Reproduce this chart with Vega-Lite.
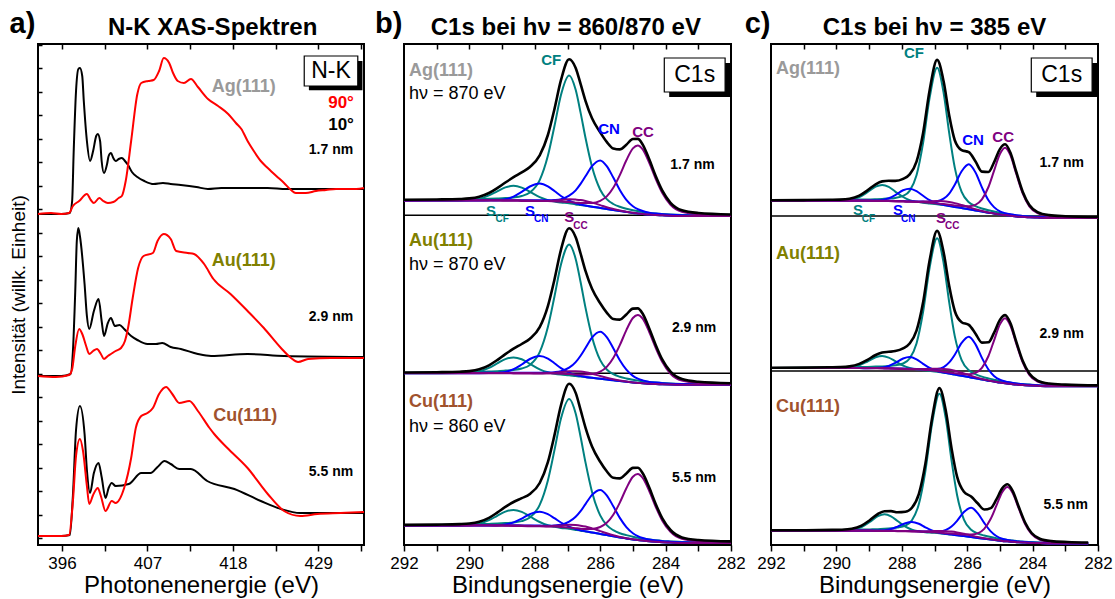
{
"$schema": "https://vega.github.io/schema/vega-lite/v6.json",
"background": "white",
"padding": {"left": 8, "top": 8, "right": 5, "bottom": 2},
"config": {
 "font": "Liberation Sans",
 "view": {"stroke": "black", "strokeWidth": 2},
 "axis": {"domain": false, "grid": false, "tickColor": "black", "tickWidth": 1.5, "labelColor": "black", "titleColor": "black", "labelFont": "Liberation Sans", "titleFont": "Liberation Sans", "labelFontSize": 17, "titleFontSize": 24, "titleFontWeight": "normal", "labelFlush": false, "labelOverlap": false},
 "text": {"font": "Liberation Sans"}
},
"spacing": 40,
"bounds": "flush",
"datasets": {
 "xas": [
{"s":"Ag","p":"90","e":392.9,"i":331},{"s":"Ag","p":"90","e":394.6,"i":332},{"s":"Ag","p":"90","e":395.9,"i":331},{"s":"Ag","p":"90","e":396.9,"i":332},{"s":"Ag","p":"90","e":397.4,"i":339},{"s":"Ag","p":"90","e":398.2,"i":344},{"s":"Ag","p":"90","e":399.2,"i":351},{"s":"Ag","p":"90","e":399.7,"i":345},{"s":"Ag","p":"90","e":400.1,"i":342},{"s":"Ag","p":"90","e":400.8,"i":347},{"s":"Ag","p":"90","e":401.3,"i":344},{"s":"Ag","p":"90","e":401.9,"i":342},{"s":"Ag","p":"90","e":402.6,"i":343},{"s":"Ag","p":"90","e":403.3,"i":347},{"s":"Ag","p":"90","e":403.7,"i":349},{"s":"Ag","p":"90","e":404.2,"i":364},{"s":"Ag","p":"90","e":404.9,"i":404},{"s":"Ag","p":"90","e":405.7,"i":451},{"s":"Ag","p":"90","e":406.2,"i":462},{"s":"Ag","p":"90","e":407.1,"i":464},{"s":"Ag","p":"90","e":407.8,"i":465},{"s":"Ag","p":"90","e":408.5,"i":474},{"s":"Ag","p":"90","e":409.1,"i":487},{"s":"Ag","p":"90","e":409.8,"i":482},{"s":"Ag","p":"90","e":410.3,"i":472},{"s":"Ag","p":"90","e":410.9,"i":464},{"s":"Ag","p":"90","e":411.7,"i":462},{"s":"Ag","p":"90","e":412.6,"i":466},{"s":"Ag","p":"90","e":413.5,"i":458},{"s":"Ag","p":"90","e":414.8,"i":446},{"s":"Ag","p":"90","e":416.1,"i":439},{"s":"Ag","p":"90","e":417.4,"i":431},{"s":"Ag","p":"90","e":418.4,"i":422},{"s":"Ag","p":"90","e":419.1,"i":416},{"s":"Ag","p":"90","e":419.9,"i":404},{"s":"Ag","p":"90","e":420.7,"i":394},{"s":"Ag","p":"90","e":421.6,"i":384},{"s":"Ag","p":"90","e":422.5,"i":377},{"s":"Ag","p":"90","e":423.6,"i":369},{"s":"Ag","p":"90","e":424.6,"i":362},{"s":"Ag","p":"90","e":425.5,"i":355},{"s":"Ag","p":"90","e":426.1,"i":352},{"s":"Ag","p":"90","e":427.4,"i":352},{"s":"Ag","p":"90","e":428.7,"i":354},{"s":"Ag","p":"90","e":430.0,"i":355},{"s":"Ag","p":"90","e":431.3,"i":356},{"s":"Ag","p":"90","e":432.6,"i":356},{"s":"Ag","p":"90","e":433.9,"i":356},{"s":"Ag","p":"90","e":434.9,"i":357},
{"s":"Ag","p":"10","e":392.9,"i":331},{"s":"Ag","p":"10","e":395.9,"i":331},{"s":"Ag","p":"10","e":397.0,"i":332},{"s":"Ag","p":"10","e":397.3,"i":344},{"s":"Ag","p":"10","e":397.5,"i":394},{"s":"Ag","p":"10","e":397.8,"i":454},{"s":"Ag","p":"10","e":398.1,"i":476},{"s":"Ag","p":"10","e":398.3,"i":477},{"s":"Ag","p":"10","e":398.6,"i":469},{"s":"Ag","p":"10","e":398.8,"i":444},{"s":"Ag","p":"10","e":399.2,"i":404},{"s":"Ag","p":"10","e":399.6,"i":384},{"s":"Ag","p":"10","e":400.0,"i":394},{"s":"Ag","p":"10","e":400.4,"i":409},{"s":"Ag","p":"10","e":400.6,"i":411},{"s":"Ag","p":"10","e":400.9,"i":404},{"s":"Ag","p":"10","e":401.1,"i":384},{"s":"Ag","p":"10","e":401.4,"i":372},{"s":"Ag","p":"10","e":401.8,"i":381},{"s":"Ag","p":"10","e":402.0,"i":389},{"s":"Ag","p":"10","e":402.3,"i":392},{"s":"Ag","p":"10","e":402.6,"i":387},{"s":"Ag","p":"10","e":402.9,"i":384},{"s":"Ag","p":"10","e":403.3,"i":386},{"s":"Ag","p":"10","e":403.7,"i":387},{"s":"Ag","p":"10","e":404.1,"i":384},{"s":"Ag","p":"10","e":404.5,"i":380},{"s":"Ag","p":"10","e":405.0,"i":373},{"s":"Ag","p":"10","e":405.7,"i":368},{"s":"Ag","p":"10","e":406.6,"i":364},{"s":"Ag","p":"10","e":407.8,"i":361},{"s":"Ag","p":"10","e":409.0,"i":362},{"s":"Ag","p":"10","e":410.0,"i":361},{"s":"Ag","p":"10","e":411.3,"i":360},{"s":"Ag","p":"10","e":413.3,"i":358},{"s":"Ag","p":"10","e":414.8,"i":356},{"s":"Ag","p":"10","e":416.5,"i":357},{"s":"Ag","p":"10","e":418.2,"i":357},{"s":"Ag","p":"10","e":420.3,"i":357},{"s":"Ag","p":"10","e":422.5,"i":357},{"s":"Ag","p":"10","e":424.9,"i":356},{"s":"Ag","p":"10","e":426.8,"i":356},{"s":"Ag","p":"10","e":429.4,"i":356},{"s":"Ag","p":"10","e":431.9,"i":356},{"s":"Ag","p":"10","e":434.9,"i":356},
{"s":"Au","p":"90","e":392.9,"i":169},{"s":"Au","p":"90","e":395.2,"i":168},{"s":"Au","p":"90","e":396.9,"i":170},{"s":"Au","p":"90","e":397.3,"i":176},{"s":"Au","p":"90","e":397.7,"i":199},{"s":"Au","p":"90","e":398.2,"i":216},{"s":"Au","p":"90","e":398.6,"i":211},{"s":"Au","p":"90","e":399.1,"i":199},{"s":"Au","p":"90","e":399.5,"i":191},{"s":"Au","p":"90","e":400.0,"i":194},{"s":"Au","p":"90","e":400.5,"i":196},{"s":"Au","p":"90","e":401.0,"i":191},{"s":"Au","p":"90","e":401.4,"i":186},{"s":"Au","p":"90","e":401.9,"i":189},{"s":"Au","p":"90","e":402.3,"i":191},{"s":"Au","p":"90","e":402.9,"i":194},{"s":"Au","p":"90","e":403.6,"i":197},{"s":"Au","p":"90","e":404.1,"i":204},{"s":"Au","p":"90","e":404.5,"i":217},{"s":"Au","p":"90","e":405.1,"i":247},{"s":"Au","p":"90","e":405.8,"i":277},{"s":"Au","p":"90","e":406.5,"i":289},{"s":"Au","p":"90","e":407.7,"i":292},{"s":"Au","p":"90","e":408.3,"i":304},{"s":"Au","p":"90","e":409.1,"i":311},{"s":"Au","p":"90","e":410.0,"i":306},{"s":"Au","p":"90","e":410.7,"i":294},{"s":"Au","p":"90","e":412.2,"i":292},{"s":"Au","p":"90","e":413.0,"i":291},{"s":"Au","p":"90","e":414.3,"i":281},{"s":"Au","p":"90","e":415.5,"i":266},{"s":"Au","p":"90","e":417.7,"i":251},{"s":"Au","p":"90","e":419.9,"i":234},{"s":"Au","p":"90","e":422.0,"i":217},{"s":"Au","p":"90","e":424.2,"i":197},{"s":"Au","p":"90","e":425.5,"i":187},{"s":"Au","p":"90","e":426.4,"i":183},{"s":"Au","p":"90","e":427.7,"i":186},{"s":"Au","p":"90","e":430.6,"i":187},{"s":"Au","p":"90","e":434.9,"i":187},
{"s":"Au","p":"10","e":392.9,"i":169},{"s":"Au","p":"10","e":395.9,"i":169},{"s":"Au","p":"10","e":397.1,"i":171},{"s":"Au","p":"10","e":397.4,"i":194},{"s":"Au","p":"10","e":397.7,"i":254},{"s":"Au","p":"10","e":397.9,"i":304},{"s":"Au","p":"10","e":398.1,"i":317},{"s":"Au","p":"10","e":398.3,"i":309},{"s":"Au","p":"10","e":398.9,"i":261},{"s":"Au","p":"10","e":399.2,"i":229},{"s":"Au","p":"10","e":399.5,"i":216},{"s":"Au","p":"10","e":400.1,"i":234},{"s":"Au","p":"10","e":400.7,"i":246},{"s":"Au","p":"10","e":401.1,"i":224},{"s":"Au","p":"10","e":401.4,"i":209},{"s":"Au","p":"10","e":401.9,"i":222},{"s":"Au","p":"10","e":402.3,"i":227},{"s":"Au","p":"10","e":402.8,"i":219},{"s":"Au","p":"10","e":403.4,"i":220},{"s":"Au","p":"10","e":404.0,"i":216},{"s":"Au","p":"10","e":404.9,"i":209},{"s":"Au","p":"10","e":405.7,"i":205},{"s":"Au","p":"10","e":407.0,"i":201},{"s":"Au","p":"10","e":408.1,"i":201},{"s":"Au","p":"10","e":408.9,"i":202},{"s":"Au","p":"10","e":410.0,"i":198},{"s":"Au","p":"10","e":411.3,"i":196},{"s":"Au","p":"10","e":413.5,"i":191},{"s":"Au","p":"10","e":415.2,"i":189},{"s":"Au","p":"10","e":419.9,"i":191},{"s":"Au","p":"10","e":424.6,"i":189},{"s":"Au","p":"10","e":434.9,"i":188},
{"s":"Cu","p":"90","e":392.9,"i":9},{"s":"Cu","p":"90","e":395.9,"i":9},{"s":"Cu","p":"90","e":396.9,"i":10},{"s":"Cu","p":"90","e":397.4,"i":44},{"s":"Cu","p":"90","e":397.8,"i":89},{"s":"Cu","p":"90","e":398.3,"i":106},{"s":"Cu","p":"90","e":398.7,"i":94},{"s":"Cu","p":"90","e":399.2,"i":59},{"s":"Cu","p":"90","e":399.5,"i":41},{"s":"Cu","p":"90","e":400.0,"i":50},{"s":"Cu","p":"90","e":400.6,"i":57},{"s":"Cu","p":"90","e":401.0,"i":49},{"s":"Cu","p":"90","e":401.6,"i":34},{"s":"Cu","p":"90","e":402.4,"i":44},{"s":"Cu","p":"90","e":402.9,"i":42},{"s":"Cu","p":"90","e":404.0,"i":57},{"s":"Cu","p":"90","e":404.9,"i":87},{"s":"Cu","p":"90","e":405.5,"i":117},{"s":"Cu","p":"90","e":406.2,"i":129},{"s":"Cu","p":"90","e":407.0,"i":132},{"s":"Cu","p":"90","e":407.7,"i":137},{"s":"Cu","p":"90","e":408.5,"i":151},{"s":"Cu","p":"90","e":409.4,"i":158},{"s":"Cu","p":"90","e":410.2,"i":151},{"s":"Cu","p":"90","e":411.1,"i":142},{"s":"Cu","p":"90","e":412.4,"i":144},{"s":"Cu","p":"90","e":413.5,"i":134},{"s":"Cu","p":"90","e":415.0,"i":117},{"s":"Cu","p":"90","e":415.6,"i":111},{"s":"Cu","p":"90","e":417.3,"i":97},{"s":"Cu","p":"90","e":419.9,"i":77},{"s":"Cu","p":"90","e":422.5,"i":51},{"s":"Cu","p":"90","e":424.6,"i":34},{"s":"Cu","p":"90","e":426.7,"i":29},{"s":"Cu","p":"90","e":428.9,"i":31},{"s":"Cu","p":"90","e":431.9,"i":32},{"s":"Cu","p":"90","e":434.9,"i":33},
{"s":"Cu","p":"10","e":392.9,"i":9},{"s":"Cu","p":"10","e":395.9,"i":9},{"s":"Cu","p":"10","e":397.0,"i":10},{"s":"Cu","p":"10","e":397.4,"i":50},{"s":"Cu","p":"10","e":397.8,"i":115},{"s":"Cu","p":"10","e":398.3,"i":139},{"s":"Cu","p":"10","e":398.9,"i":111},{"s":"Cu","p":"10","e":399.2,"i":75},{"s":"Cu","p":"10","e":399.6,"i":52},{"s":"Cu","p":"10","e":400.1,"i":72},{"s":"Cu","p":"10","e":400.7,"i":82},{"s":"Cu","p":"10","e":401.1,"i":68},{"s":"Cu","p":"10","e":401.6,"i":47},{"s":"Cu","p":"10","e":402.0,"i":57},{"s":"Cu","p":"10","e":402.4,"i":62},{"s":"Cu","p":"10","e":402.9,"i":59},{"s":"Cu","p":"10","e":404.6,"i":61},{"s":"Cu","p":"10","e":406.2,"i":72},{"s":"Cu","p":"10","e":407.4,"i":72},{"s":"Cu","p":"10","e":408.3,"i":78},{"s":"Cu","p":"10","e":409.2,"i":84},{"s":"Cu","p":"10","e":410.0,"i":81},{"s":"Cu","p":"10","e":411.1,"i":76},{"s":"Cu","p":"10","e":412.6,"i":76},{"s":"Cu","p":"10","e":414.7,"i":64},{"s":"Cu","p":"10","e":418.2,"i":56},{"s":"Cu","p":"10","e":421.6,"i":44},{"s":"Cu","p":"10","e":424.2,"i":36},{"s":"Cu","p":"10","e":426.7,"i":32},{"s":"Cu","p":"10","e":434.9,"i":32}
 ],
 "xb": [
{"s":"Ag","x":292,"CF":344.9,"CN":344.6,"CC":344.6,"SF":344.5,"SN":344.5,"SC":344.5,"E":345.2},
{"s":"Ag","x":291,"CF":345.1,"CN":344.7,"CC":344.7,"SF":344.5,"SN":344.5,"SC":344.5,"E":345.5},
{"s":"Ag","x":290.3,"CF":345.4,"CN":344.7,"CC":344.7,"SF":344.6,"SN":344.5,"SC":344.5,"E":346.0},
{"s":"Ag","x":290,"CF":345.6,"CN":344.8,"CC":344.8,"SF":345.0,"SN":344.5,"SC":344.5,"E":346.6},
{"s":"Ag","x":289.7,"CF":345.9,"CN":344.8,"CC":344.8,"SF":346.3,"SN":344.5,"SC":344.5,"E":348.3},
{"s":"Ag","x":289.4,"CF":346.2,"CN":344.9,"CC":344.8,"SF":349.6,"SN":344.6,"SC":344.5,"E":352.0},
{"s":"Ag","x":289.15,"CF":346.5,"CN":344.8,"CC":344.8,"SF":353.7,"SN":344.8,"SC":344.4,"E":356.9},
{"s":"Ag","x":288.9,"CF":346.9,"CN":344.8,"CC":344.7,"SF":357.6,"SN":345.7,"SC":344.3,"E":362.5},
{"s":"Ag","x":288.65,"CF":347.6,"CN":344.8,"CC":344.7,"SF":359.2,"SN":348.4,"SC":344.2,"E":367.8},
{"s":"Ag","x":288.4,"CF":349.0,"CN":344.8,"CC":344.6,"SF":357.4,"SN":353.1,"SC":344.1,"E":372.6},
{"s":"Ag","x":288.15,"CF":352.5,"CN":344.8,"CC":344.5,"SF":353.2,"SN":358.5,"SC":344.0,"E":378.0},
{"s":"Ag","x":287.85,"CF":364.9,"CN":344.7,"CC":344.2,"SF":347.9,"SN":361.5,"SC":343.9,"E":389.6},
{"s":"Ag","x":287.6,"CF":389.2,"CN":344.7,"CC":344.0,"SF":344.9,"SN":358.7,"SC":344.1,"E":410.0},
{"s":"Ag","x":287.4,"CF":418.7,"CN":345.0,"CC":343.7,"SF":343.4,"SN":354.0,"SC":344.4,"E":435.8},
{"s":"Ag","x":287.2,"CF":450.1,"CN":345.9,"CC":343.4,"SF":342.5,"SN":349.0,"SC":345.0,"E":464.8},
{"s":"Ag","x":286.95,"CF":469.6,"CN":349.4,"CC":343.0,"SF":341.7,"SN":344.4,"SC":345.7,"E":485.8},
{"s":"Ag","x":286.75,"CF":455.2,"CN":354.7,"CC":342.3,"SF":340.6,"SN":341.7,"SC":345.4,"E":477.1},
{"s":"Ag","x":286.6,"CF":432.4,"CN":361.1,"CC":342.1,"SF":340.0,"SN":340.5,"SC":345.0,"E":461.1},
{"s":"Ag","x":286.45,"CF":407.2,"CN":368.7,"CC":341.9,"SF":339.3,"SN":339.5,"SC":344.1,"E":444.2},
{"s":"Ag","x":286.25,"CF":378.2,"CN":378.9,"CC":342.0,"SF":338.3,"SN":338.3,"SC":342.4,"E":426.7},
{"s":"Ag","x":286,"CF":355.3,"CN":384.6,"CC":344.2,"SF":337.1,"SN":337.1,"SC":339.9,"E":412.6},
{"s":"Ag","x":285.8,"CF":345.8,"CN":378.9,"CC":348.6,"SF":336.0,"SN":336.0,"SC":337.7,"E":403.1},
{"s":"Ag","x":285.6,"CF":341.0,"CN":367.4,"CC":357.2,"SF":335.0,"SN":335.0,"SC":336.0,"E":396.5},
{"s":"Ag","x":285.4,"CF":338.2,"CN":355.1,"CC":369.9,"SF":334.0,"SN":334.0,"SC":334.5,"E":395.6},
{"s":"Ag","x":285.2,"CF":336.2,"CN":345.2,"CC":384.7,"SF":333.0,"SN":333.0,"SC":333.2,"E":400.3},
{"s":"Ag","x":285,"CF":334.7,"CN":338.8,"CC":396.6,"SF":332.1,"SN":332.1,"SC":332.2,"E":406.0},
{"s":"Ag","x":284.85,"CF":333.9,"CN":335.9,"CC":399.6,"SF":331.6,"SN":331.6,"SC":331.6,"E":406.1},
{"s":"Ag","x":284.7,"CF":333.1,"CN":334.0,"CC":395.6,"SF":331.1,"SN":331.1,"SC":331.1,"E":400.4},
{"s":"Ag","x":284.5,"CF":332.1,"CN":332.3,"CC":382.1,"SF":330.4,"SN":330.4,"SC":330.4,"E":385.7},
{"s":"Ag","x":284.3,"CF":331.4,"CN":331.4,"CC":365.9,"SF":330.0,"SN":330.0,"SC":330.0,"E":368.7},
{"s":"Ag","x":284.1,"CF":330.9,"CN":330.8,"CC":351.9,"SF":329.7,"SN":329.7,"SC":329.7,"E":354.3},
{"s":"Ag","x":283.85,"CF":330.4,"CN":330.2,"CC":340.2,"SF":329.3,"SN":329.3,"SC":329.3,"E":342.2},
{"s":"Ag","x":283.5,"CF":329.9,"CN":329.7,"CC":333.2,"SF":329.0,"SN":329.0,"SC":329.0,"E":334.7},
{"s":"Ag","x":283,"CF":329.7,"CN":329.5,"CC":330.8,"SF":329.0,"SN":329.0,"SC":329.0,"E":332.0},
{"s":"Ag","x":282,"CF":329.4,"CN":329.3,"CC":329.8,"SF":329.0,"SN":329.0,"SC":329.0,"E":330.5},
{"s":"Au","x":292,"CF":172.2,"CN":171.9,"CC":171.9,"SF":171.8,"SN":171.8,"SC":171.8,"E":172.5},
{"s":"Au","x":291,"CF":172.5,"CN":172.0,"CC":172.0,"SF":171.8,"SN":171.8,"SC":171.8,"E":172.8},
{"s":"Au","x":290.3,"CF":172.7,"CN":172.0,"CC":172.0,"SF":171.9,"SN":171.8,"SC":171.8,"E":173.3},
{"s":"Au","x":290,"CF":172.9,"CN":172.1,"CC":172.1,"SF":172.3,"SN":171.8,"SC":171.8,"E":173.9},
{"s":"Au","x":289.7,"CF":173.2,"CN":172.1,"CC":172.1,"SF":173.7,"SN":171.8,"SC":171.8,"E":175.7},
{"s":"Au","x":289.4,"CF":173.5,"CN":172.2,"CC":172.1,"SF":177.2,"SN":171.9,"SC":171.8,"E":179.7},
{"s":"Au","x":289.15,"CF":173.8,"CN":172.1,"CC":172.1,"SF":181.6,"SN":172.1,"SC":171.7,"E":184.9},
{"s":"Au","x":288.9,"CF":174.4,"CN":172.2,"CC":172.1,"SF":185.9,"SN":173.1,"SC":171.7,"E":190.9},
{"s":"Au","x":288.65,"CF":175.1,"CN":172.2,"CC":172.1,"SF":187.6,"SN":175.8,"SC":171.6,"E":196.3},
{"s":"Au","x":288.4,"CF":176.5,"CN":172.2,"CC":172.0,"SF":185.7,"SN":180.5,"SC":171.5,"E":201.0},
{"s":"Au","x":288.15,"CF":180.1,"CN":172.2,"CC":171.9,"SF":181.2,"SN":186.0,"SC":171.4,"E":206.2},
{"s":"Au","x":287.85,"CF":192.9,"CN":172.2,"CC":171.7,"SF":175.7,"SN":189.0,"SC":171.4,"E":217.8},
{"s":"Au","x":287.6,"CF":218.0,"CN":172.4,"CC":171.7,"SF":172.7,"SN":186.4,"SC":171.8,"E":238.9},
{"s":"Au","x":287.4,"CF":248.2,"CN":172.8,"CC":171.5,"SF":171.3,"SN":181.8,"SC":172.3,"E":265.3},
{"s":"Au","x":287.2,"CF":280.5,"CN":173.8,"CC":171.3,"SF":170.4,"SN":176.9,"SC":172.9,"E":295.2},
{"s":"Au","x":286.95,"CF":300.6,"CN":177.3,"CC":171.0,"SF":169.7,"SN":172.4,"SC":173.7,"E":316.7},
{"s":"Au","x":286.75,"CF":286.1,"CN":182.9,"CC":170.6,"SF":168.9,"SN":170.0,"SC":173.7,"E":307.8},
{"s":"Au","x":286.6,"CF":263.0,"CN":189.3,"CC":170.5,"SF":168.4,"SN":168.9,"SC":173.4,"E":291.5},
{"s":"Au","x":286.45,"CF":237.4,"CN":197.0,"CC":170.5,"SF":167.9,"SN":168.1,"SC":172.7,"E":274.1},
{"s":"Au","x":286.25,"CF":208.1,"CN":207.4,"CC":170.9,"SF":167.2,"SN":167.2,"SC":171.3,"E":256.2},
{"s":"Au","x":286,"CF":184.9,"CN":213.2,"CC":173.3,"SF":166.2,"SN":166.2,"SC":169.0,"E":241.7},
{"s":"Au","x":285.8,"CF":175.5,"CN":207.9,"CC":178.1,"SF":165.4,"SN":165.4,"SC":167.2,"E":232.4},
{"s":"Au","x":285.6,"CF":170.8,"CN":196.7,"CC":186.9,"SF":164.7,"SN":164.7,"SC":165.7,"E":226.0},
{"s":"Au","x":285.4,"CF":168.2,"CN":184.8,"CC":199.8,"SF":163.9,"SN":163.9,"SC":164.4,"E":225.4},
{"s":"Au","x":285.2,"CF":166.5,"CN":175.3,"CC":214.9,"SF":163.2,"SN":163.2,"SC":163.4,"E":230.5},
{"s":"Au","x":285,"CF":165.2,"CN":169.1,"CC":227.0,"SF":162.5,"SN":162.5,"SC":162.6,"E":236.4},
{"s":"Au","x":284.85,"CF":164.4,"CN":166.3,"CC":230.1,"SF":162.1,"SN":162.1,"SC":162.1,"E":236.6},
{"s":"Au","x":284.7,"CF":163.8,"CN":164.6,"CC":226.3,"SF":161.8,"SN":161.8,"SC":161.8,"E":231.2},
{"s":"Au","x":284.5,"CF":162.9,"CN":163.1,"CC":212.9,"SF":161.2,"SN":161.2,"SC":161.2,"E":216.5},
{"s":"Au","x":284.3,"CF":162.5,"CN":162.4,"CC":196.9,"SF":161.0,"SN":161.0,"SC":161.0,"E":199.8},
{"s":"Au","x":284.1,"CF":162.0,"CN":161.8,"CC":182.9,"SF":160.7,"SN":160.7,"SC":160.7,"E":185.3},
{"s":"Au","x":283.85,"CF":161.5,"CN":161.3,"CC":171.3,"SF":160.4,"SN":160.4,"SC":160.4,"E":173.3},
{"s":"Au","x":283.5,"CF":161.1,"CN":160.9,"CC":164.4,"SF":160.2,"SN":160.2,"SC":160.2,"E":165.9},
{"s":"Au","x":283,"CF":160.9,"CN":160.7,"CC":162.0,"SF":160.2,"SN":160.2,"SC":160.2,"E":163.2},
{"s":"Au","x":282,"CF":160.6,"CN":160.5,"CC":161.0,"SF":160.2,"SN":160.2,"SC":160.2,"E":161.7},
{"s":"Cu","x":292,"CF":19.8,"CN":19.5,"CC":19.5,"SF":19.4,"SN":19.4,"SC":19.4,"E":20.1},
{"s":"Cu","x":291,"CF":20.1,"CN":19.6,"CC":19.6,"SF":19.4,"SN":19.4,"SC":19.4,"E":20.4},
{"s":"Cu","x":290.3,"CF":20.3,"CN":19.6,"CC":19.6,"SF":19.5,"SN":19.4,"SC":19.4,"E":20.9},
{"s":"Cu","x":290,"CF":20.5,"CN":19.7,"CC":19.6,"SF":19.9,"SN":19.4,"SC":19.4,"E":21.5},
{"s":"Cu","x":289.7,"CF":20.8,"CN":19.7,"CC":19.7,"SF":21.3,"SN":19.4,"SC":19.4,"E":23.3},
{"s":"Cu","x":289.4,"CF":21.1,"CN":19.7,"CC":19.7,"SF":24.8,"SN":19.5,"SC":19.4,"E":27.2},
{"s":"Cu","x":289.15,"CF":21.4,"CN":19.7,"CC":19.7,"SF":29.2,"SN":19.6,"SC":19.3,"E":32.4},
{"s":"Cu","x":288.9,"CF":21.9,"CN":19.7,"CC":19.6,"SF":33.4,"SN":20.4,"SC":19.2,"E":38.1},
{"s":"Cu","x":288.65,"CF":22.6,"CN":19.7,"CC":19.5,"SF":35.1,"SN":22.6,"SC":19.1,"E":43.0},
{"s":"Cu","x":288.4,"CF":23.9,"CN":19.6,"CC":19.4,"SF":33.1,"SN":26.4,"SC":18.9,"E":46.8},
{"s":"Cu","x":288.15,"CF":27.4,"CN":19.5,"CC":19.3,"SF":28.6,"SN":30.9,"SC":18.8,"E":51.0},
{"s":"Cu","x":287.85,"CF":40.1,"CN":19.4,"CC":19.0,"SF":23.0,"SN":33.3,"SC":18.7,"E":62.0},
{"s":"Cu","x":287.6,"CF":64.6,"CN":19.3,"CC":18.6,"SF":19.7,"SN":30.8,"SC":18.8,"E":82.8},
{"s":"Cu","x":287.4,"CF":94.6,"CN":19.5,"CC":18.4,"SF":18.2,"SN":26.8,"SC":19.2,"E":109.6},
{"s":"Cu","x":287.2,"CF":126.4,"CN":20.2,"CC":17.9,"SF":17.1,"SN":22.5,"SC":19.6,"E":139.7},
{"s":"Cu","x":286.95,"CF":146.1,"CN":23.3,"CC":17.5,"SF":16.2,"SN":18.4,"SC":20.2,"E":161.2},
{"s":"Cu","x":286.75,"CF":131.5,"CN":28.2,"CC":16.8,"SF":15.1,"SN":16.0,"SC":19.9,"E":152.1},
{"s":"Cu","x":286.6,"CF":108.2,"CN":33.8,"CC":16.3,"SF":14.3,"SN":14.7,"SC":19.3,"E":135.1},
{"s":"Cu","x":286.45,"CF":82.6,"CN":40.9,"CC":16.1,"SF":13.6,"SN":13.8,"SC":18.4,"E":117.4},
{"s":"Cu","x":286.25,"CF":53.1,"CN":50.1,"CC":16.1,"SF":12.5,"SN":12.5,"SC":16.6,"E":98.5},
{"s":"Cu","x":286,"CF":29.6,"CN":55.1,"CC":18.0,"SF":11.1,"SN":11.1,"SC":13.9,"E":83.2},
{"s":"Cu","x":285.8,"CF":19.9,"CN":49.7,"CC":22.2,"SF":9.9,"SN":9.9,"SC":11.7,"E":73.7},
{"s":"Cu","x":285.6,"CF":14.8,"CN":38.7,"CC":30.2,"SF":8.7,"SN":8.7,"SC":9.7,"E":67.2},
{"s":"Cu","x":285.4,"CF":11.8,"CN":27.1,"CC":42.4,"SF":7.6,"SN":7.6,"SC":8.1,"E":66.6},
{"s":"Cu","x":285.2,"CF":9.9,"CN":17.9,"CC":56.8,"SF":6.6,"SN":6.6,"SC":6.8,"E":71.6},
{"s":"Cu","x":285,"CF":8.3,"CN":11.8,"CC":68.2,"SF":5.6,"SN":5.6,"SC":5.7,"E":77.1},
{"s":"Cu","x":284.85,"CF":7.3,"CN":8.9,"CC":71.0,"SF":5.0,"SN":5.0,"SC":5.0,"E":77.2},
{"s":"Cu","x":284.7,"CF":6.4,"CN":7.0,"CC":67.0,"SF":4.4,"SN":4.4,"SC":4.4,"E":71.7},
{"s":"Cu","x":284.5,"CF":5.4,"CN":5.5,"CC":53.9,"SF":3.7,"SN":3.7,"SC":3.7,"E":57.4},
{"s":"Cu","x":284.3,"CF":4.7,"CN":4.5,"CC":38.0,"SF":3.2,"SN":3.2,"SC":3.2,"E":40.8},
{"s":"Cu","x":284.1,"CF":4.1,"CN":3.8,"CC":24.3,"SF":2.8,"SN":2.8,"SC":2.8,"E":26.6},
{"s":"Cu","x":283.85,"CF":3.6,"CN":3.3,"CC":13.1,"SF":2.5,"SN":2.5,"SC":2.5,"E":15.0},
{"s":"Cu","x":283.5,"CF":3.0,"CN":2.7,"CC":6.2,"SF":2.1,"SN":2.1,"SC":2.1,"E":7.6},
{"s":"Cu","x":283,"CF":2.8,"CN":2.5,"CC":3.9,"SF":2.1,"SN":2.1,"SC":2.1,"E":5.0},
{"s":"Cu","x":282,"CF":2.5,"CN":2.4,"CC":2.9,"SF":2.1,"SN":2.1,"SC":2.1,"E":3.6}
 ],
 "xc": [
{"s":"Ag","x":292,"CF":344.5,"CN":344.4,"CC":344.4,"SF":344.3,"SN":344.3,"SC":344.3,"E":344.7},
{"s":"Ag","x":291,"CF":344.7,"CN":344.4,"CC":344.4,"SF":344.3,"SN":344.3,"SC":344.3,"E":344.9},
{"s":"Ag","x":290.2,"CF":344.9,"CN":344.4,"CC":344.4,"SF":344.3,"SN":344.3,"SC":344.3,"E":345.2},
{"s":"Ag","x":289.9,"CF":345.0,"CN":344.5,"CC":344.4,"SF":344.4,"SN":344.3,"SC":344.3,"E":345.4},
{"s":"Ag","x":289.6,"CF":345.2,"CN":344.5,"CC":344.5,"SF":345.0,"SN":344.3,"SC":344.3,"E":346.2},
{"s":"Ag","x":289.3,"CF":345.4,"CN":344.5,"CC":344.5,"SF":347.9,"SN":344.3,"SC":344.3,"E":349.3},
{"s":"Ag","x":289.05,"CF":345.5,"CN":344.5,"CC":344.4,"SF":352.8,"SN":344.2,"SC":344.2,"E":354.6},
{"s":"Ag","x":288.8,"CF":345.8,"CN":344.4,"CC":344.3,"SF":358.3,"SN":344.3,"SC":344.1,"E":360.7},
{"s":"Ag","x":288.6,"CF":346.1,"CN":344.3,"CC":344.3,"SF":360.0,"SN":344.9,"SC":344.0,"E":363.6},
{"s":"Ag","x":288.4,"CF":346.6,"CN":344.3,"CC":344.2,"SF":358.1,"SN":346.7,"SC":343.9,"E":364.2},
{"s":"Ag","x":288.2,"CF":347.1,"CN":344.1,"CC":343.9,"SF":353.4,"SN":349.9,"SC":343.6,"E":364.1},
{"s":"Ag","x":287.96,"CF":349.1,"CN":344.0,"CC":343.8,"SF":348.0,"SN":354.8,"SC":343.5,"E":366.1},
{"s":"Ag","x":287.76,"CF":354.1,"CN":343.7,"CC":343.4,"SF":344.8,"SN":356.3,"SC":343.2,"E":370.6},
{"s":"Ag","x":287.55,"CF":369.7,"CN":343.6,"CC":343.2,"SF":343.2,"SN":353.9,"SC":343.3,"E":383.4},
{"s":"Ag","x":287.35,"CF":401.8,"CN":343.4,"CC":342.8,"SF":342.3,"SN":349.2,"SC":343.4,"E":411.8},
{"s":"Ag","x":287.15,"CF":447.1,"CN":343.2,"CC":342.3,"SF":341.6,"SN":344.8,"SC":343.6,"E":454.6},
{"s":"Ag","x":286.92,"CF":477.3,"CN":343.8,"CC":341.6,"SF":340.8,"SN":341.7,"SC":343.9,"E":485.1},
{"s":"Ag","x":286.72,"CF":452.0,"CN":346.3,"CC":340.9,"SF":339.9,"SN":340.1,"SC":343.7,"E":463.4},
{"s":"Ag","x":286.55,"CF":411.8,"CN":351.4,"CC":340.2,"SF":339.0,"SN":339.1,"SC":343.0,"E":429.4},
{"s":"Ag","x":286.38,"CF":377.4,"CN":360.3,"CC":339.5,"SF":338.1,"SN":338.1,"SC":341.9,"E":404.8},
{"s":"Ag","x":286.17,"CF":353.1,"CN":373.8,"CC":338.9,"SF":337.0,"SN":337.0,"SC":340.0,"E":394.9},
{"s":"Ag","x":285.95,"CF":342.8,"CN":380.8,"CC":338.8,"SF":335.8,"SN":335.8,"SC":337.8,"E":392.8},
{"s":"Ag","x":285.75,"CF":338.9,"CN":372.7,"CC":340.2,"SF":334.6,"SN":334.6,"SC":335.8,"E":383.8},
{"s":"Ag","x":285.55,"CF":336.5,"CN":357.6,"CC":345.6,"SF":333.4,"SN":333.4,"SC":334.0,"E":373.4},
{"s":"Ag","x":285.35,"CF":334.7,"CN":344.7,"CC":358.0,"SF":332.3,"SN":332.3,"SC":332.6,"E":373.0},
{"s":"Ag","x":285.18,"CF":333.5,"CN":337.9,"CC":374.1,"SF":331.5,"SN":331.5,"SC":331.6,"E":382.6},
{"s":"Ag","x":285,"CF":332.1,"CN":333.7,"CC":391.0,"SF":330.5,"SN":330.5,"SC":330.5,"E":395.9},
{"s":"Ag","x":284.84,"CF":331.3,"CN":331.9,"CC":397.3,"SF":329.9,"SN":329.9,"SC":329.9,"E":400.7},
{"s":"Ag","x":284.68,"CF":330.5,"CN":330.7,"CC":389.8,"SF":329.3,"SN":329.3,"SC":329.3,"E":392.4},
{"s":"Ag","x":284.5,"CF":329.6,"CN":329.7,"CC":371.2,"SF":328.6,"SN":328.6,"SC":328.6,"E":373.3},
{"s":"Ag","x":284.3,"CF":329.1,"CN":329.0,"CC":351.3,"SF":328.2,"SN":328.2,"SC":328.2,"E":353.0},
{"s":"Ag","x":284.1,"CF":328.6,"CN":328.5,"CC":338.6,"SF":327.8,"SN":327.8,"SC":327.8,"E":340.0},
{"s":"Ag","x":283.85,"CF":328.2,"CN":328.0,"CC":331.8,"SF":327.5,"SN":327.5,"SC":327.5,"E":332.9},
{"s":"Ag","x":283.5,"CF":327.6,"CN":327.5,"CC":329.0,"SF":327.1,"SN":327.1,"SC":327.1,"E":329.9},
{"s":"Ag","x":283,"CF":327.5,"CN":327.4,"CC":328.1,"SF":327.1,"SN":327.1,"SC":327.1,"E":328.8},
{"s":"Ag","x":282,"CF":327.4,"CN":327.3,"CC":327.5,"SF":327.1,"SN":327.1,"SC":327.1,"E":328.0},
{"s":"Au","x":292,"CF":177.1,"CN":177.0,"CC":177.0,"SF":176.9,"SN":176.9,"SC":176.9,"E":177.3},
{"s":"Au","x":291,"CF":177.3,"CN":177.0,"CC":177.0,"SF":176.9,"SN":176.9,"SC":176.9,"E":177.4},
{"s":"Au","x":290.2,"CF":177.5,"CN":177.0,"CC":177.0,"SF":176.9,"SN":176.9,"SC":176.9,"E":177.7},
{"s":"Au","x":289.9,"CF":177.6,"CN":177.0,"CC":177.0,"SF":177.0,"SN":176.9,"SC":176.9,"E":177.9},
{"s":"Au","x":289.6,"CF":177.7,"CN":177.1,"CC":177.1,"SF":177.5,"SN":176.9,"SC":176.9,"E":178.6},
{"s":"Au","x":289.3,"CF":177.9,"CN":177.1,"CC":177.1,"SF":179.7,"SN":176.9,"SC":176.9,"E":181.1},
{"s":"Au","x":289.05,"CF":178.1,"CN":177.0,"CC":177.0,"SF":183.5,"SN":176.8,"SC":176.8,"E":185.2},
{"s":"Au","x":288.8,"CF":178.4,"CN":177.0,"CC":176.9,"SF":187.7,"SN":176.9,"SC":176.7,"E":190.0},
{"s":"Au","x":288.6,"CF":178.6,"CN":176.9,"CC":176.9,"SF":189.0,"SN":177.4,"SC":176.6,"E":192.4},
{"s":"Au","x":288.4,"CF":179.0,"CN":176.8,"CC":176.7,"SF":187.4,"SN":179.0,"SC":176.4,"E":193.2},
{"s":"Au","x":288.2,"CF":179.7,"CN":176.6,"CC":176.5,"SF":183.8,"SN":182.1,"SC":176.2,"E":193.9},
{"s":"Au","x":287.96,"CF":181.5,"CN":176.4,"CC":176.3,"SF":179.4,"SN":186.5,"SC":176.0,"E":196.6},
{"s":"Au","x":287.76,"CF":186.5,"CN":176.2,"CC":176.0,"SF":177.0,"SN":188.0,"SC":175.8,"E":201.5},
{"s":"Au","x":287.55,"CF":201.6,"CN":176.0,"CC":175.7,"SF":175.6,"SN":185.7,"SC":175.8,"E":214.3},
{"s":"Au","x":287.35,"CF":233.0,"CN":175.7,"CC":175.3,"SF":174.8,"SN":181.2,"SC":175.9,"E":242.4},
{"s":"Au","x":287.15,"CF":277.3,"CN":175.6,"CC":174.7,"SF":174.1,"SN":177.1,"SC":176.1,"E":284.4},
{"s":"Au","x":286.92,"CF":306.7,"CN":175.9,"CC":174.0,"SF":173.2,"SN":174.0,"SC":176.3,"E":314.1},
{"s":"Au","x":286.72,"CF":281.8,"CN":177.9,"CC":173.2,"SF":172.2,"SN":172.4,"SC":176.0,"E":292.5},
{"s":"Au","x":286.55,"CF":242.6,"CN":182.6,"CC":172.5,"SF":171.4,"SN":171.4,"SC":175.4,"E":258.9},
{"s":"Au","x":286.38,"CF":208.9,"CN":190.3,"CC":171.8,"SF":170.4,"SN":170.4,"SC":174.2,"E":234.0},
{"s":"Au","x":286.17,"CF":184.9,"CN":202.2,"CC":171.1,"SF":169.2,"SN":169.2,"SC":172.2,"E":222.8},
{"s":"Au","x":285.95,"CF":174.8,"CN":208.3,"CC":170.8,"SF":167.9,"SN":167.9,"SC":169.9,"E":220.1},
{"s":"Au","x":285.75,"CF":170.9,"CN":200.9,"CC":172.1,"SF":166.7,"SN":166.7,"SC":167.9,"E":211.6},
{"s":"Au","x":285.55,"CF":168.4,"CN":187.1,"CC":177.1,"SF":165.4,"SN":165.4,"SC":166.0,"E":202.4},
{"s":"Au","x":285.35,"CF":166.6,"CN":175.5,"CC":189.0,"SF":164.3,"SN":164.3,"SC":164.6,"E":202.7},
{"s":"Au","x":285.18,"CF":165.3,"CN":169.1,"CC":204.4,"SF":163.4,"SN":163.4,"SC":163.5,"E":212.2},
{"s":"Au","x":285,"CF":164.0,"CN":165.3,"CC":220.6,"SF":162.4,"SN":162.4,"SC":162.4,"E":225.1},
{"s":"Au","x":284.84,"CF":163.2,"CN":163.6,"CC":226.7,"SF":161.8,"SN":161.8,"SC":161.8,"E":229.9},
{"s":"Au","x":284.68,"CF":162.4,"CN":162.5,"CC":219.4,"SF":161.2,"SN":161.2,"SC":161.2,"E":221.9},
{"s":"Au","x":284.5,"CF":161.4,"CN":161.4,"CC":201.4,"SF":160.4,"SN":160.4,"SC":160.4,"E":203.4},
{"s":"Au","x":284.3,"CF":160.9,"CN":160.8,"CC":182.3,"SF":160.0,"SN":160.0,"SC":160.0,"E":183.9},
{"s":"Au","x":284.1,"CF":160.4,"CN":160.2,"CC":170.0,"SF":159.6,"SN":159.6,"SC":159.6,"E":171.4},
{"s":"Au","x":283.85,"CF":159.8,"CN":159.7,"CC":163.3,"SF":159.2,"SN":159.2,"SC":159.2,"E":164.4},
{"s":"Au","x":283.5,"CF":159.3,"CN":159.2,"CC":160.6,"SF":158.8,"SN":158.8,"SC":158.8,"E":161.5},
{"s":"Au","x":283,"CF":159.2,"CN":159.1,"CC":159.8,"SF":158.8,"SN":158.8,"SC":158.8,"E":160.4},
{"s":"Au","x":282,"CF":159.1,"CN":158.9,"CC":159.2,"SF":158.8,"SN":158.8,"SC":158.8,"E":159.6},
{"s":"Cu","x":292,"CF":14.6,"CN":14.3,"CC":14.4,"SF":14.3,"SN":14.3,"SC":14.3,"E":14.7},
{"s":"Cu","x":290.93,"CF":14.7,"CN":14.4,"CC":14.4,"SF":14.3,"SN":14.3,"SC":14.3,"E":14.8},
{"s":"Cu","x":290.13,"CF":14.9,"CN":14.4,"CC":14.4,"SF":14.3,"SN":14.3,"SC":14.3,"E":15.1},
{"s":"Cu","x":289.83,"CF":15.0,"CN":14.4,"CC":14.4,"SF":14.4,"SN":14.3,"SC":14.3,"E":15.3},
{"s":"Cu","x":289.53,"CF":15.2,"CN":14.4,"CC":14.4,"SF":15.1,"SN":14.3,"SC":14.3,"E":16.2},
{"s":"Cu","x":289.23,"CF":15.4,"CN":14.4,"CC":14.5,"SF":18.0,"SN":14.3,"SC":14.3,"E":19.4},
{"s":"Cu","x":288.98,"CF":15.6,"CN":14.4,"CC":14.4,"SF":23.1,"SN":14.2,"SC":14.2,"E":24.8},
{"s":"Cu","x":288.73,"CF":15.8,"CN":14.3,"CC":14.3,"SF":28.8,"SN":14.3,"SC":14.1,"E":31.0},
{"s":"Cu","x":288.53,"CF":16.2,"CN":14.3,"CC":14.3,"SF":30.7,"SN":14.7,"SC":14.1,"E":33.8},
{"s":"Cu","x":288.33,"CF":16.7,"CN":14.3,"CC":14.2,"SF":28.7,"SN":16.0,"SC":14.0,"E":33.9},
{"s":"Cu","x":288.13,"CF":17.4,"CN":14.1,"CC":14.1,"SF":24.0,"SN":18.4,"SC":13.8,"E":32.7},
{"s":"Cu","x":287.89,"CF":19.5,"CN":14.0,"CC":13.9,"SF":18.3,"SN":21.8,"SC":13.7,"E":33.2},
{"s":"Cu","x":287.69,"CF":24.8,"CN":13.9,"CC":13.7,"SF":15.3,"SN":23.0,"SC":13.6,"E":37.2},
{"s":"Cu","x":287.48,"CF":40.7,"CN":13.7,"CC":13.5,"SF":13.7,"SN":21.2,"SC":13.5,"E":50.8},
{"s":"Cu","x":287.28,"CF":73.7,"CN":13.5,"CC":13.2,"SF":12.8,"SN":17.7,"SC":13.6,"E":81.0},
{"s":"Cu","x":287.08,"CF":120.2,"CN":13.4,"CC":12.8,"SF":12.3,"SN":14.6,"SC":13.8,"E":125.6},
{"s":"Cu","x":286.85,"CF":151.3,"CN":13.7,"CC":12.4,"SF":11.7,"SN":12.3,"SC":14.0,"E":156.9},
{"s":"Cu","x":286.65,"CF":125.6,"CN":15.2,"CC":11.8,"SF":11.0,"SN":11.2,"SC":13.8,"E":133.5},
{"s":"Cu","x":286.48,"CF":84.8,"CN":18.5,"CC":11.4,"SF":10.4,"SN":10.4,"SC":13.4,"E":96.9},
{"s":"Cu","x":286.31,"CF":50.0,"CN":24.2,"CC":11.0,"SF":9.8,"SN":9.8,"SC":12.6,"E":68.4},
{"s":"Cu","x":286.1,"CF":25.4,"CN":32.9,"CC":10.5,"SF":8.9,"SN":8.9,"SC":11.2,"E":53.2},
{"s":"Cu","x":285.88,"CF":15.2,"CN":37.3,"CC":10.4,"SF":8.0,"SN":8.0,"SC":9.5,"E":48.4},
{"s":"Cu","x":285.68,"CF":11.5,"CN":31.9,"CC":11.6,"SF":7.1,"SN":7.1,"SC":8.0,"E":41.7},
{"s":"Cu","x":285.48,"CF":9.5,"CN":22.1,"CC":16.1,"SF":6.3,"SN":6.3,"SC":6.7,"E":35.5},
{"s":"Cu","x":285.28,"CF":7.9,"CN":13.6,"CC":26.2,"SF":5.5,"SN":5.5,"SC":5.7,"E":36.9},
{"s":"Cu","x":285.11,"CF":6.8,"CN":9.0,"CC":39.1,"SF":4.8,"SN":4.8,"SC":4.9,"E":45.3},
{"s":"Cu","x":284.93,"CF":5.8,"CN":6.2,"CC":52.8,"SF":4.1,"SN":4.1,"SC":4.1,"E":56.6},
{"s":"Cu","x":284.77,"CF":5.1,"CN":5.0,"CC":58.0,"SF":3.7,"SN":3.7,"SC":3.7,"E":60.7},
{"s":"Cu","x":284.61,"CF":4.5,"CN":4.2,"CC":52.0,"SF":3.3,"SN":3.3,"SC":3.3,"E":54.2},
{"s":"Cu","x":284.43,"CF":3.8,"CN":3.4,"CC":37.0,"SF":2.7,"SN":2.7,"SC":2.7,"E":38.8},
{"s":"Cu","x":284.23,"CF":3.3,"CN":3.0,"CC":21.0,"SF":2.4,"SN":2.4,"SC":2.4,"E":22.5},
{"s":"Cu","x":284.03,"CF":2.9,"CN":2.5,"CC":10.8,"SF":2.1,"SN":2.1,"SC":2.1,"E":12.0},
{"s":"Cu","x":283.78,"CF":2.6,"CN":2.3,"CC":5.3,"SF":1.9,"SN":1.9,"SC":1.9,"E":6.3},
{"s":"Cu","x":283.43,"CF":2.1,"CN":1.9,"CC":3.1,"SF":1.6,"SN":1.6,"SC":1.6,"E":3.9},
{"s":"Cu","x":282.93,"CF":2.0,"CN":1.8,"CC":2.4,"SF":1.6,"SN":1.6,"SC":1.6,"E":3.0},
{"s":"Cu","x":282.3,"CF":1.9,"CN":1.7,"CC":2.1,"SF":1.6,"SN":1.6,"SC":1.6,"E":2.5}
 ]
},
"hconcat": [
 {
  "width": 326, "height": 501,
  "resolve": {"axis": {"x": "independent", "y": "independent"}, "scale": {"color": "independent"}},
  "layer": [
   {"data": {"name": "xas"}, "transform": [{"filter": "datum.p == '10'"}],
    "mark": {"type": "line", "color": "black", "strokeWidth": 2, "interpolate": "monotone"},
    "encoding": {
     "x": {"field": "e", "type": "quantitative", "scale": {"domain": [392.9, 434.9], "nice": false, "zero": false},
           "axis": {"orient": "bottom", "values": [396, 401.5, 407, 412.5, 418, 423.5, 429, 434.5], "labelExpr": "datum.value % 11 == 0 ? datum.label : ''", "title": "Photonenenergie (eV)", "tickSize": 6, "labelPadding": 4, "titlePadding": 2}},
     "y": {"field": "i", "type": "quantitative", "scale": {"domain": [0, 501], "nice": false, "zero": false},
           "axis": {"orient": "left", "values": [7, 30, 54, 77, 101, 124, 148, 171, 195, 218, 242, 265, 289, 312, 336, 359, 383, 406, 430, 453, 477, 500], "labels": false, "title": "Intensität (willk. Einheit)", "titleFontSize": 19, "tickSize": -4, "titlePadding": 9}},
     "detail": {"field": "s"}}},
   {"data": {"name": "xas"}, "transform": [{"filter": "datum.p == '90'"}],
    "mark": {"type": "line", "color": "#FF0000", "strokeWidth": 2, "interpolate": "monotone"},
    "encoding": {
     "x": {"field": "e", "type": "quantitative", "scale": {"domain": [392.9, 434.9], "nice": false, "zero": false},
           "axis": {"orient": "top", "values": [396, 401.5, 407, 412.5, 418, 423.5, 429, 434.5], "labels": false, "title": null, "tickSize": -5}},
     "y": {"field": "i", "type": "quantitative", "scale": {"domain": [0, 501], "nice": false, "zero": false}, "axis": null},
     "detail": {"field": "s"}}},
   {"data": {"values": [{"e": 419.4, "i": 458, "t": "Ag(111)", "s": "Ag"}, {"e": 419.4, "i": 284, "t": "Au(111)", "s": "Au"}, {"e": 419.6, "i": 129, "t": "Cu(111)", "s": "Cu"}]},
    "mark": {"type": "text", "fontSize": 18, "fontWeight": "bold", "align": "center", "baseline": "middle"},
    "encoding": {
     "x": {"field": "e", "type": "quantitative", "scale": {"domain": [392.9, 434.9], "nice": false, "zero": false}, "axis": null},
     "y": {"field": "i", "type": "quantitative", "scale": {"domain": [0, 501], "nice": false, "zero": false}, "axis": null},
     "text": {"field": "t"},
     "color": {"field": "s", "type": "nominal", "scale": {"domain": ["Ag", "Au", "Cu"], "range": ["#9A9A9A", "#808000", "#A0522D"]}, "legend": null}}},
   {"data": {"values": [{"e": 433.5, "i": 395, "t": "1.7 nm"}, {"e": 433.5, "i": 228, "t": "2.9 nm"}, {"e": 433.5, "i": 73, "t": "5.5 nm"}]},
    "mark": {"type": "text", "fontSize": 14, "fontWeight": "bold", "align": "right", "baseline": "middle", "color": "black"},
    "encoding": {
     "x": {"field": "e", "type": "quantitative", "scale": {"domain": [392.9, 434.9], "nice": false, "zero": false}, "axis": null},
     "y": {"field": "i", "type": "quantitative", "scale": {"domain": [0, 501], "nice": false, "zero": false}, "axis": null},
     "text": {"field": "t"}}},
   {"data": {"values": [{"e": 433.6, "i": 442, "t": "90°", "p": "90"}, {"e": 433.6, "i": 420, "t": "10°", "p": "10"}]},
    "mark": {"type": "text", "fontSize": 17, "fontWeight": "bold", "align": "right", "baseline": "middle"},
    "encoding": {
     "x": {"field": "e", "type": "quantitative", "scale": {"domain": [392.9, 434.9], "nice": false, "zero": false}, "axis": null},
     "y": {"field": "i", "type": "quantitative", "scale": {"domain": [0, 501], "nice": false, "zero": false}, "axis": null},
     "text": {"field": "t"},
     "color": {"field": "p", "type": "nominal", "scale": {"domain": ["90", "10"], "range": ["#FF0000", "#000000"]}, "legend": null}}},
   {"data": {"values": [{"x1": 427.8, "x2": 434.7, "y1": 454.7, "y2": 484}]},
    "mark": {"type": "rect", "color": "black"},
    "encoding": {
     "x": {"field": "x1", "type": "quantitative", "scale": {"domain": [392.9, 434.9], "nice": false, "zero": false}, "axis": null},
     "x2": {"field": "x2"},
     "y": {"field": "y1", "type": "quantitative", "scale": {"domain": [0, 501], "nice": false, "zero": false}, "axis": null},
     "y2": {"field": "y2"}}},
   {"data": {"values": [{"x1": 427.2, "x2": 434.1, "y1": 459, "y2": 489}]},
    "mark": {"type": "rect", "fill": "white", "stroke": "black", "strokeWidth": 1.2},
    "encoding": {
     "x": {"field": "x1", "type": "quantitative", "scale": {"domain": [392.9, 434.9], "nice": false, "zero": false}, "axis": null},
     "x2": {"field": "x2"},
     "y": {"field": "y1", "type": "quantitative", "scale": {"domain": [0, 501], "nice": false, "zero": false}, "axis": null},
     "y2": {"field": "y2"}}},
   {"data": {"values": [{"e": 430.65, "i": 474, "t": "N-K"}]},
    "mark": {"type": "text", "fontSize": 23, "align": "center", "baseline": "middle", "color": "black"},
    "encoding": {
     "x": {"field": "e", "type": "quantitative", "scale": {"domain": [392.9, 434.9], "nice": false, "zero": false}, "axis": null},
     "y": {"field": "i", "type": "quantitative", "scale": {"domain": [0, 501], "nice": false, "zero": false}, "axis": null},
     "text": {"field": "t"}}},
   {"data": {"values": [{"e": 390.9, "i": 521.5, "t": "a)"}]},
    "mark": {"type": "text", "fontSize": 29, "fontWeight": "bold", "align": "center", "baseline": "middle", "color": "black"},
    "encoding": {
     "x": {"field": "e", "type": "quantitative", "scale": {"domain": [392.9, 434.9], "nice": false, "zero": false}, "axis": null},
     "y": {"field": "i", "type": "quantitative", "scale": {"domain": [0, 501], "nice": false, "zero": false}, "axis": null},
     "text": {"field": "t"}}},
   {"data": {"values": [{"e": 415.4, "i": 517, "t": "N-K XAS-Spektren"}]},
    "mark": {"type": "text", "fontSize": 24, "fontWeight": "bold", "align": "center", "baseline": "middle", "color": "black"},
    "encoding": {
     "x": {"field": "e", "type": "quantitative", "scale": {"domain": [392.9, 434.9], "nice": false, "zero": false}, "axis": null},
     "y": {"field": "i", "type": "quantitative", "scale": {"domain": [0, 501], "nice": false, "zero": false}, "axis": null},
     "text": {"field": "t"}}}
  ]
 },
 {
  "width": 327, "height": 501,
  "resolve": {"axis": {"x": "independent", "y": "independent"}, "scale": {"color": "independent"}},
  "layer": [
   {"data": {"values": [{"y": 329.7}, {"y": 171.7}]},
    "mark": {"type": "rule", "color": "black", "strokeWidth": 1.5},
    "encoding": {"y": {"field": "y", "type": "quantitative", "scale": {"domain": [0, 501], "nice": false, "zero": false}, "axis": null}}},
   {"data": {"name": "xb"}, "transform": [{"fold": ["CF", "SF"], "as": ["k", "v"]}],
    "mark": {"type": "line", "color": "#008080", "strokeWidth": 2, "interpolate": "monotone"},
    "encoding": {
     "x": {"field": "x", "type": "quantitative", "scale": {"domain": [282, 292], "reverse": true, "nice": false, "zero": false},
           "axis": {"orient": "bottom", "values": [282, 283, 284, 285, 286, 287, 288, 289, 290, 291, 292], "labelExpr": "datum.value % 2 == 0 ? datum.label : ''", "title": "Bindungsenergie (eV)", "tickSize": 6, "labelPadding": 4, "titlePadding": 2}},
     "y": {"field": "v", "type": "quantitative", "scale": {"domain": [0, 501], "nice": false, "zero": false}, "axis": null},
     "detail": [{"field": "s"}, {"field": "k"}]}},
   {"data": {"name": "xb"}, "transform": [{"fold": ["CN", "SN"], "as": ["k", "v"]}],
    "mark": {"type": "line", "color": "#0000FF", "strokeWidth": 2, "interpolate": "monotone"},
    "encoding": {
     "x": {"field": "x", "type": "quantitative", "scale": {"domain": [282, 292], "reverse": true, "nice": false, "zero": false},
           "axis": {"orient": "top", "values": [283, 284, 285, 286, 287, 288, 289, 290, 291], "labels": false, "title": null, "tickSize": -5}},
     "y": {"field": "v", "type": "quantitative", "scale": {"domain": [0, 501], "nice": false, "zero": false}, "axis": null},
     "detail": [{"field": "s"}, {"field": "k"}]}},
   {"data": {"name": "xb"}, "transform": [{"fold": ["CC", "SC"], "as": ["k", "v"]}],
    "mark": {"type": "line", "color": "#800080", "strokeWidth": 2, "interpolate": "monotone"},
    "encoding": {
     "x": {"field": "x", "type": "quantitative", "scale": {"domain": [282, 292], "reverse": true, "nice": false, "zero": false}, "axis": null},
     "y": {"field": "v", "type": "quantitative", "scale": {"domain": [0, 501], "nice": false, "zero": false}, "axis": null},
     "detail": [{"field": "s"}, {"field": "k"}]}},
   {"data": {"name": "xb"},
    "mark": {"type": "line", "color": "black", "strokeWidth": 2.6, "interpolate": "monotone"},
    "encoding": {
     "x": {"field": "x", "type": "quantitative", "scale": {"domain": [282, 292], "reverse": true, "nice": false, "zero": false}, "axis": null},
     "y": {"field": "E", "type": "quantitative", "scale": {"domain": [0, 501], "nice": false, "zero": false}, "axis": null},
     "detail": {"field": "s"}}},
   {"data": {"values": [{"x": 291.85, "y": 474, "t": "Ag(111)", "s": "Ag"}, {"x": 291.85, "y": 304, "t": "Au(111)", "s": "Au"}, {"x": 291.85, "y": 143, "t": "Cu(111)", "s": "Cu"}]},
    "mark": {"type": "text", "fontSize": 18, "fontWeight": "bold", "align": "left", "baseline": "middle"},
    "encoding": {
     "x": {"field": "x", "type": "quantitative", "scale": {"domain": [282, 292], "reverse": true, "nice": false, "zero": false}, "axis": null},
     "y": {"field": "y", "type": "quantitative", "scale": {"domain": [0, 501], "nice": false, "zero": false}, "axis": null},
     "text": {"field": "t"},
     "color": {"field": "s", "type": "nominal", "scale": {"domain": ["Ag", "Au", "Cu"], "range": ["#9A9A9A", "#808000", "#A0522D"]}, "legend": null}}},
   {"data": {"values": [{"x": 291.85, "y": 451, "t": "hν = 870 eV"}, {"x": 291.85, "y": 280, "t": "hν = 870 eV"}, {"x": 291.85, "y": 118, "t": "hν = 860 eV"}]},
    "mark": {"type": "text", "fontSize": 18, "align": "left", "baseline": "middle", "color": "black"},
    "encoding": {
     "x": {"field": "x", "type": "quantitative", "scale": {"domain": [282, 292], "reverse": true, "nice": false, "zero": false}, "axis": null},
     "y": {"field": "y", "type": "quantitative", "scale": {"domain": [0, 501], "nice": false, "zero": false}, "axis": null},
     "text": {"field": "t"}}},
   {"data": {"values": [{"x": 282.5, "y": 380, "t": "1.7 nm"}, {"x": 282.45, "y": 217, "t": "2.9 nm"}, {"x": 282.45, "y": 67, "t": "5.5 nm"}]},
    "mark": {"type": "text", "fontSize": 14, "fontWeight": "bold", "align": "right", "baseline": "middle", "color": "black"},
    "encoding": {
     "x": {"field": "x", "type": "quantitative", "scale": {"domain": [282, 292], "reverse": true, "nice": false, "zero": false}, "axis": null},
     "y": {"field": "y", "type": "quantitative", "scale": {"domain": [0, 501], "nice": false, "zero": false}, "axis": null},
     "text": {"field": "t"}}},
   {"data": {"values": [{"x": 287.5, "y": 485, "t": "CF", "c": "CF"}, {"x": 285.73, "y": 416, "t": "CN", "c": "CN"}, {"x": 284.69, "y": 413, "t": "CC", "c": "CC"}, {"x": 289.34, "y": 334, "t": "S", "c": "CF"}, {"x": 288.15, "y": 334, "t": "S", "c": "CN"}, {"x": 286.95, "y": 328, "t": "S", "c": "CC"}]},
    "mark": {"type": "text", "fontSize": 15, "fontWeight": "bold", "align": "center", "baseline": "middle"},
    "encoding": {
     "x": {"field": "x", "type": "quantitative", "scale": {"domain": [282, 292], "reverse": true, "nice": false, "zero": false}, "axis": null},
     "y": {"field": "y", "type": "quantitative", "scale": {"domain": [0, 501], "nice": false, "zero": false}, "axis": null},
     "text": {"field": "t"},
     "color": {"field": "c", "type": "nominal", "scale": {"domain": ["CF", "CN", "CC"], "range": ["#008080", "#0000FF", "#800080"]}, "legend": null}}},
   {"data": {"values": [{"x": 289.0, "y": 326, "t": "CF", "c": "CF"}, {"x": 287.8, "y": 326, "t": "CN", "c": "CN"}, {"x": 286.6, "y": 319.5, "t": "CC", "c": "CC"}]},
    "mark": {"type": "text", "fontSize": 10, "fontWeight": "bold", "align": "center", "baseline": "middle"},
    "encoding": {
     "x": {"field": "x", "type": "quantitative", "scale": {"domain": [282, 292], "reverse": true, "nice": false, "zero": false}, "axis": null},
     "y": {"field": "y", "type": "quantitative", "scale": {"domain": [0, 501], "nice": false, "zero": false}, "axis": null},
     "text": {"field": "t"},
     "color": {"field": "c", "type": "nominal", "scale": {"domain": ["CF", "CN", "CC"], "range": ["#008080", "#0000FF", "#800080"]}, "legend": null}}},
   {"data": {"values": [{"x1": 283.89, "x2": 282.03, "y1": 448, "y2": 482}]},
    "mark": {"type": "rect", "color": "black"},
    "encoding": {
     "x": {"field": "x1", "type": "quantitative", "scale": {"domain": [282, 292], "reverse": true, "nice": false, "zero": false}, "axis": null},
     "x2": {"field": "x2"},
     "y": {"field": "y1", "type": "quantitative", "scale": {"domain": [0, 501], "nice": false, "zero": false}, "axis": null},
     "y2": {"field": "y2"}}},
   {"data": {"values": [{"x1": 284.04, "x2": 282.18, "y1": 453, "y2": 487}]},
    "mark": {"type": "rect", "fill": "white", "stroke": "black", "strokeWidth": 1.2},
    "encoding": {
     "x": {"field": "x1", "type": "quantitative", "scale": {"domain": [282, 292], "reverse": true, "nice": false, "zero": false}, "axis": null},
     "x2": {"field": "x2"},
     "y": {"field": "y1", "type": "quantitative", "scale": {"domain": [0, 501], "nice": false, "zero": false}, "axis": null},
     "y2": {"field": "y2"}}},
   {"data": {"values": [{"x": 283.11, "y": 470, "t": "C1s"}]},
    "mark": {"type": "text", "align": "center", "baseline": "middle", "color": "black", "fontSize": 23},
    "encoding": {
     "x": {"field": "x", "type": "quantitative", "scale": {"domain": [282, 292], "reverse": true, "nice": false, "zero": false}, "axis": null},
     "y": {"field": "y", "type": "quantitative", "scale": {"domain": [0, 501], "nice": false, "zero": false}, "axis": null},
     "text": {"field": "t"}}},
   {"data": {"values": [{"x": 292.47, "y": 521.5, "t": "b)"}]},
    "mark": {"type": "text", "align": "center", "baseline": "middle", "color": "black", "fontSize": 29, "fontWeight": "bold"},
    "encoding": {
     "x": {"field": "x", "type": "quantitative", "scale": {"domain": [282, 292], "reverse": true, "nice": false, "zero": false}, "axis": null},
     "y": {"field": "y", "type": "quantitative", "scale": {"domain": [0, 501], "nice": false, "zero": false}, "axis": null},
     "text": {"field": "t"}}},
   {"data": {"values": [{"x": 287.05, "y": 517, "t": "C1s bei hν = 860/870 eV"}]},
    "mark": {"type": "text", "align": "center", "baseline": "middle", "color": "black", "fontSize": 24, "fontWeight": "bold"},
    "encoding": {
     "x": {"field": "x", "type": "quantitative", "scale": {"domain": [282, 292], "reverse": true, "nice": false, "zero": false}, "axis": null},
     "y": {"field": "y", "type": "quantitative", "scale": {"domain": [0, 501], "nice": false, "zero": false}, "axis": null},
     "text": {"field": "t"}}}
  ]
 },
 {
  "width": 327, "height": 501,
  "resolve": {"axis": {"x": "independent", "y": "independent"}, "scale": {"color": "independent"}},
  "layer": [
   {"data": {"values": [{"y": 329}, {"y": 174}]},
    "mark": {"type": "rule", "color": "black", "strokeWidth": 1.5},
    "encoding": {"y": {"field": "y", "type": "quantitative", "scale": {"domain": [0, 501], "nice": false, "zero": false}, "axis": null}}},
   {"data": {"name": "xc"}, "transform": [{"fold": ["CF", "SF"], "as": ["k", "v"]}],
    "mark": {"type": "line", "color": "#008080", "strokeWidth": 2, "interpolate": "monotone"},
    "encoding": {
     "x": {"field": "x", "type": "quantitative", "scale": {"domain": [282, 292], "reverse": true, "nice": false, "zero": false},
           "axis": {"orient": "bottom", "values": [282, 283, 284, 285, 286, 287, 288, 289, 290, 291, 292], "labelExpr": "datum.value % 2 == 0 ? datum.label : ''", "title": "Bindungsenergie (eV)", "tickSize": 6, "labelPadding": 4, "titlePadding": 2}},
     "y": {"field": "v", "type": "quantitative", "scale": {"domain": [0, 501], "nice": false, "zero": false}, "axis": null},
     "detail": [{"field": "s"}, {"field": "k"}]}},
   {"data": {"name": "xc"}, "transform": [{"fold": ["CN", "SN"], "as": ["k", "v"]}],
    "mark": {"type": "line", "color": "#0000FF", "strokeWidth": 2, "interpolate": "monotone"},
    "encoding": {
     "x": {"field": "x", "type": "quantitative", "scale": {"domain": [282, 292], "reverse": true, "nice": false, "zero": false},
           "axis": {"orient": "top", "values": [283, 284, 285, 286, 287, 288, 289, 290, 291], "labels": false, "title": null, "tickSize": -5}},
     "y": {"field": "v", "type": "quantitative", "scale": {"domain": [0, 501], "nice": false, "zero": false}, "axis": null},
     "detail": [{"field": "s"}, {"field": "k"}]}},
   {"data": {"name": "xc"}, "transform": [{"fold": ["CC", "SC"], "as": ["k", "v"]}],
    "mark": {"type": "line", "color": "#800080", "strokeWidth": 2, "interpolate": "monotone"},
    "encoding": {
     "x": {"field": "x", "type": "quantitative", "scale": {"domain": [282, 292], "reverse": true, "nice": false, "zero": false}, "axis": null},
     "y": {"field": "v", "type": "quantitative", "scale": {"domain": [0, 501], "nice": false, "zero": false}, "axis": null},
     "detail": [{"field": "s"}, {"field": "k"}]}},
   {"data": {"name": "xc"},
    "mark": {"type": "line", "color": "black", "strokeWidth": 2.6, "interpolate": "monotone"},
    "encoding": {
     "x": {"field": "x", "type": "quantitative", "scale": {"domain": [282, 292], "reverse": true, "nice": false, "zero": false}, "axis": null},
     "y": {"field": "E", "type": "quantitative", "scale": {"domain": [0, 501], "nice": false, "zero": false}, "axis": null},
     "detail": {"field": "s"}}},
   {"data": {"values": [{"x": 291.85, "y": 476, "t": "Ag(111)", "s": "Ag"}, {"x": 291.85, "y": 291, "t": "Au(111)", "s": "Au"}, {"x": 291.85, "y": 138, "t": "Cu(111)", "s": "Cu"}]},
    "mark": {"type": "text", "fontSize": 18, "fontWeight": "bold", "align": "left", "baseline": "middle"},
    "encoding": {
     "x": {"field": "x", "type": "quantitative", "scale": {"domain": [282, 292], "reverse": true, "nice": false, "zero": false}, "axis": null},
     "y": {"field": "y", "type": "quantitative", "scale": {"domain": [0, 501], "nice": false, "zero": false}, "axis": null},
     "text": {"field": "t"},
     "color": {"field": "s", "type": "nominal", "scale": {"domain": ["Ag", "Au", "Cu"], "range": ["#9A9A9A", "#808000", "#A0522D"]}, "legend": null}}},
   {"data": {"values": [{"x": 282.43, "y": 382, "t": "1.7 nm"}, {"x": 282.43, "y": 211, "t": "2.9 nm"}, {"x": 282.31, "y": 40, "t": "5.5 nm"}]},
    "mark": {"type": "text", "fontSize": 14, "fontWeight": "bold", "align": "right", "baseline": "middle", "color": "black"},
    "encoding": {
     "x": {"field": "x", "type": "quantitative", "scale": {"domain": [282, 292], "reverse": true, "nice": false, "zero": false}, "axis": null},
     "y": {"field": "y", "type": "quantitative", "scale": {"domain": [0, 501], "nice": false, "zero": false}, "axis": null},
     "text": {"field": "t"}}},
   {"data": {"values": [{"x": 287.63, "y": 492, "t": "CF", "c": "CF"}, {"x": 285.82, "y": 405.5, "t": "CN", "c": "CN"}, {"x": 284.9, "y": 408, "t": "CC", "c": "CC"}, {"x": 289.34, "y": 335, "t": "S", "c": "CF"}, {"x": 288.12, "y": 335, "t": "S", "c": "CN"}, {"x": 286.8, "y": 327, "t": "S", "c": "CC"}]},
    "mark": {"type": "text", "fontSize": 15, "fontWeight": "bold", "align": "center", "baseline": "middle"},
    "encoding": {
     "x": {"field": "x", "type": "quantitative", "scale": {"domain": [282, 292], "reverse": true, "nice": false, "zero": false}, "axis": null},
     "y": {"field": "y", "type": "quantitative", "scale": {"domain": [0, 501], "nice": false, "zero": false}, "axis": null},
     "text": {"field": "t"},
     "color": {"field": "c", "type": "nominal", "scale": {"domain": ["CF", "CN", "CC"], "range": ["#008080", "#0000FF", "#800080"]}, "legend": null}}},
   {"data": {"values": [{"x": 289.02, "y": 326.5, "t": "CF", "c": "CF"}, {"x": 287.8, "y": 326.5, "t": "CN", "c": "CN"}, {"x": 286.46, "y": 319, "t": "CC", "c": "CC"}]},
    "mark": {"type": "text", "fontSize": 10, "fontWeight": "bold", "align": "center", "baseline": "middle"},
    "encoding": {
     "x": {"field": "x", "type": "quantitative", "scale": {"domain": [282, 292], "reverse": true, "nice": false, "zero": false}, "axis": null},
     "y": {"field": "y", "type": "quantitative", "scale": {"domain": [0, 501], "nice": false, "zero": false}, "axis": null},
     "text": {"field": "t"},
     "color": {"field": "c", "type": "nominal", "scale": {"domain": ["CF", "CN", "CC"], "range": ["#008080", "#0000FF", "#800080"]}, "legend": null}}},
   {"data": {"values": [{"x1": 283.89, "x2": 282.03, "y1": 448, "y2": 482}]},
    "mark": {"type": "rect", "color": "black"},
    "encoding": {
     "x": {"field": "x1", "type": "quantitative", "scale": {"domain": [282, 292], "reverse": true, "nice": false, "zero": false}, "axis": null},
     "x2": {"field": "x2"},
     "y": {"field": "y1", "type": "quantitative", "scale": {"domain": [0, 501], "nice": false, "zero": false}, "axis": null},
     "y2": {"field": "y2"}}},
   {"data": {"values": [{"x1": 284.04, "x2": 282.18, "y1": 453, "y2": 487}]},
    "mark": {"type": "rect", "fill": "white", "stroke": "black", "strokeWidth": 1.2},
    "encoding": {
     "x": {"field": "x1", "type": "quantitative", "scale": {"domain": [282, 292], "reverse": true, "nice": false, "zero": false}, "axis": null},
     "x2": {"field": "x2"},
     "y": {"field": "y1", "type": "quantitative", "scale": {"domain": [0, 501], "nice": false, "zero": false}, "axis": null},
     "y2": {"field": "y2"}}},
   {"data": {"values": [{"x": 283.11, "y": 470, "t": "C1s"}]},
    "mark": {"type": "text", "align": "center", "baseline": "middle", "color": "black", "fontSize": 23},
    "encoding": {
     "x": {"field": "x", "type": "quantitative", "scale": {"domain": [282, 292], "reverse": true, "nice": false, "zero": false}, "axis": null},
     "y": {"field": "y", "type": "quantitative", "scale": {"domain": [0, 501], "nice": false, "zero": false}, "axis": null},
     "text": {"field": "t"}}},
   {"data": {"values": [{"x": 292.41, "y": 521.5, "t": "c)"}]},
    "mark": {"type": "text", "align": "center", "baseline": "middle", "color": "black", "fontSize": 29, "fontWeight": "bold"},
    "encoding": {
     "x": {"field": "x", "type": "quantitative", "scale": {"domain": [282, 292], "reverse": true, "nice": false, "zero": false}, "axis": null},
     "y": {"field": "y", "type": "quantitative", "scale": {"domain": [0, 501], "nice": false, "zero": false}, "axis": null},
     "text": {"field": "t"}}},
   {"data": {"values": [{"x": 287.0, "y": 517, "t": "C1s bei hν = 385 eV"}]},
    "mark": {"type": "text", "align": "center", "baseline": "middle", "color": "black", "fontSize": 24, "fontWeight": "bold"},
    "encoding": {
     "x": {"field": "x", "type": "quantitative", "scale": {"domain": [282, 292], "reverse": true, "nice": false, "zero": false}, "axis": null},
     "y": {"field": "y", "type": "quantitative", "scale": {"domain": [0, 501], "nice": false, "zero": false}, "axis": null},
     "text": {"field": "t"}}}
  ]
 }
]
}
